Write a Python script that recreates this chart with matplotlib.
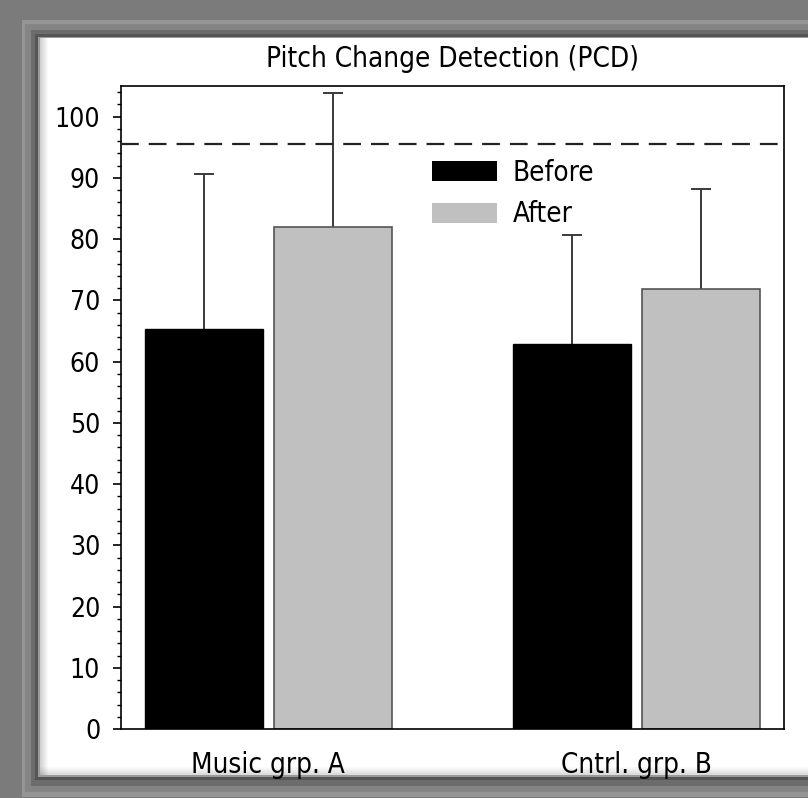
import matplotlib
matplotlib.use("Agg")
import matplotlib.pyplot as plt
from matplotlib.patches import Rectangle, Patch
from matplotlib.ticker import MultipleLocator
import numpy as np

# -----------------------------
# DATA
# -----------------------------
groups = ["Music grp. A", "Cntrl. grp. B"]
before = [65.4, 62.9]
after = [81.9, 71.9]
before_err = [25.3, 17.7]
after_err = [21.9, 16.2]
criterion = 95.5
series_names = ["Before", "After"]

W, H = 808, 798

plt.rcParams["font.family"] = ["DejaVu Sans"]
plt.rcParams["font.stretch"] = "condensed"

fig = plt.figure(figsize=(W / 100, H / 100), dpi=100)
fig.patch.set_facecolor("#7b7b7b")


def px_rect(x0, y0, x1, y1, color, **kw):
    # rectangle given in pixel coords measured from the top-left corner
    r = Rectangle((x0 / W, 1 - y1 / H), (x1 - x0) / W, (y1 - y0) / H,
                  transform=fig.transFigure, facecolor=color,
                  edgecolor="none", zorder=-10, **kw)
    fig.patches.append(r)


# -----------------------------
# Bevelled frame
# -----------------------------
bands = [
    (22, 20, 797, "#959595"),
    (25, 24, 792, "#858585"),
    (31, 30, 786, "#6c6c6c"),
    (35, 34, 780, "#555555"),
    (38, 37, 777, "#9a9a9a"),
    (40, 38, 775, "#ffffff"),
]
for left, top, bottom, color in bands:
    px_rect(left, top, W + 20, bottom, color)

# soft inner shadow along left and bottom edges
for i in range(8):
    a = 0.18 * (1 - i / 8)
    px_rect(40 + i, 38, 41 + i, 775, "#000000", alpha=a)
    px_rect(40, 774 - i, W + 20, 775 - i, "#000000", alpha=a * 0.8)

# -----------------------------
# Chart
# -----------------------------
ax = fig.add_axes([121 / W, 1 - 729 / H, (784 - 121) / W, (729 - 86) / H])
ax.set_facecolor("white")

x = np.arange(len(groups))
width = 0.32
offset = 0.175

ax.bar(x - offset, before, width, color="black", edgecolor="black",
       linewidth=1.0, zorder=2)
ax.bar(x + offset, after, width, color="#c0c0c0", edgecolor="#555555",
       linewidth=1.2, zorder=2)

for xs, ys, es in [(x - offset, before, before_err), (x + offset, after, after_err)]:
    _, caps, _ = ax.errorbar(xs, ys, yerr=[np.zeros(len(es)), es], fmt="none",
                             ecolor="#3a3a3a", elinewidth=1.4, capsize=7,
                             capthick=1.4, zorder=1)
    caps[0].set_visible(False)

ax.axhline(criterion, color="#222222", linewidth=1.6,
           linestyle=(0, (8, 4.5)), zorder=3)

ax.set_xlim(-0.4, 1.4)
ax.set_ylim(0, 105)
ax.yaxis.set_major_locator(MultipleLocator(10))
ax.yaxis.set_minor_locator(MultipleLocator(2))
ax.set_xticks(x)
ax.set_xticklabels(groups, fontsize=20)
ax.tick_params(axis="x", length=0, pad=16)
ax.tick_params(axis="y", which="major", length=6, width=1.2, pad=9, labelsize=19)
ax.tick_params(axis="y", which="minor", length=3, width=1.0)
for s in ax.spines.values():
    s.set_linewidth(1.2)

fig.text((121 + 784) / 2 / W, 1 - 59 / H, "Pitch Change Detection (PCD)",
         fontsize=20, ha="center", va="center")

handles = [Patch(facecolor="black", edgecolor="none"),
           Patch(facecolor="#c0c0c0", edgecolor="none")]
ax.legend(handles, series_names, loc="upper left",
          bbox_to_anchor=((432 - 121) / 663, (729 - 159) / 643),
          frameon=False, fontsize=20, handlelength=2.35, handleheight=0.72,
          handletextpad=0.55, labelspacing=0.48, borderpad=0, borderaxespad=0)

fig.savefig("out.png", dpi=100, facecolor=fig.get_facecolor())
